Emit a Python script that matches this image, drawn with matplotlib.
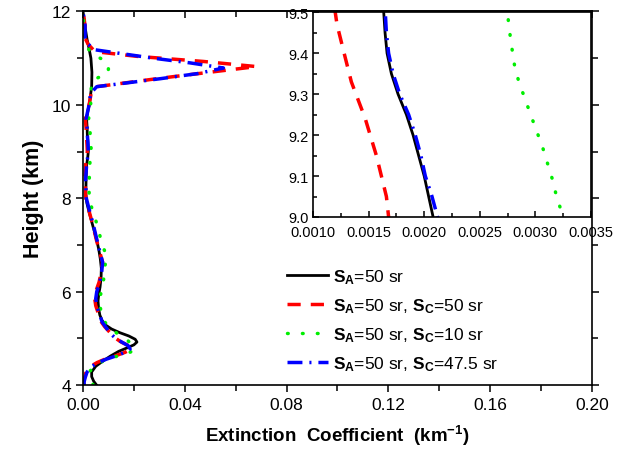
import matplotlib
matplotlib.use("Agg")
import matplotlib.pyplot as plt
from matplotlib.ticker import MultipleLocator

plt.rcParams['font.family'] = ['Liberation Sans', 'DejaVu Sans']
plt.rcParams['mathtext.fontset'] = 'custom'
plt.rcParams['mathtext.rm'] = 'Liberation Sans:bold'
plt.rcParams['mathtext.bf'] = 'Liberation Sans:bold'
plt.rcParams['mathtext.it'] = 'Liberation Sans:bold'
plt.rcParams['mathtext.default'] = 'bf'

# S_A = 50 sr
h_a = [4.00, 4.08, 4.18, 4.28, 4.40, 4.52, 4.62, 4.72, 4.80, 4.86, 4.92, 4.98,
       5.05, 5.12, 5.20, 5.28, 5.38, 5.50, 5.65, 5.80, 5.95, 6.10, 6.30, 6.50,
       6.70, 6.90, 7.10, 7.30, 7.50, 7.70, 7.90, 8.10, 8.40, 8.70, 8.90, 9.00,
       9.05, 9.10, 9.15, 9.20, 9.25, 9.30, 9.35, 9.40, 9.45, 9.50, 9.70, 9.90,
       10.10, 10.40, 10.70, 11.00, 11.20, 11.40, 11.60, 11.80, 12.00]
ext_a = [0.0053, 0.0042, 0.0034, 0.0034, 0.0050, 0.0080, 0.0108, 0.0140, 0.0175,
         0.0200, 0.0212, 0.0205, 0.0180, 0.0145, 0.0112, 0.0090, 0.0075, 0.0066,
         0.0061, 0.0059, 0.0062, 0.0067, 0.0071, 0.0072, 0.0068, 0.0062, 0.0054,
         0.0044, 0.0034, 0.0024, 0.0015, 0.0011, 0.0012, 0.0014, 0.0019, 0.00208,
         0.00204, 0.00200, 0.00195, 0.00190, 0.00184, 0.001765, 0.001705,
         0.001666, 0.001648, 0.001636, 0.0014, 0.0020, 0.0027, 0.0034, 0.0035,
         0.0031, 0.0024, 0.0016, 0.0010, 0.0005, 0.0000]

# S_A = 50 sr, S_C = 50 sr
h_b = [4.00, 4.06, 4.15, 4.28, 4.40, 4.48, 4.55, 4.62, 4.70, 4.77, 4.84, 4.92,
       4.99, 5.07, 5.13, 5.25, 5.35, 5.50, 5.70, 5.85, 6.00, 6.20, 6.42, 6.63,
       6.88, 7.10, 7.42, 7.70, 8.00, 8.40, 8.70, 9.00, 9.05, 9.15, 9.24, 9.33,
       9.40, 9.47, 9.50, 9.70, 10.00, 10.25, 10.39, 10.57, 10.70, 10.82, 10.93,
       11.04, 11.14, 11.30, 11.45, 11.70, 12.00]
ext_b = [0.0002, 0.0003, 0.0006, 0.0012, 0.0030, 0.0055, 0.0085, 0.0125, 0.0165,
         0.0190, 0.0180, 0.0150, 0.0131, 0.0115, 0.0105, 0.0085, 0.0072, 0.0062,
         0.0050, 0.0046, 0.0050, 0.0063, 0.0072, 0.0077, 0.0064, 0.0053, 0.0039,
         0.0025, 0.0011, 0.0008, 0.0010, 0.00168, 0.00166, 0.00157, 0.00147,
         0.001345, 0.00128, 0.001216, 0.00120, 0.0009, 0.0024, 0.0032, 0.0054,
         0.0303, 0.0499, 0.0682, 0.0473, 0.0211, 0.0047, 0.0020, 0.0006, 0.0008,
         0.0000]

# S_A = 50 sr, S_C = 10 sr
h_c = [4.00, 4.10, 4.20, 4.29, 4.40, 4.50, 4.57, 4.63, 4.69, 4.74, 4.80, 4.88,
       4.99, 5.10, 5.20, 5.35, 5.56, 5.70, 5.85, 6.00, 6.15, 6.49, 6.77, 7.06,
       7.38, 7.70, 8.00, 8.30, 8.70, 9.012, 9.05, 9.09, 9.13, 9.17, 9.21, 9.25,
       9.289, 9.329, 9.369, 9.41, 9.449, 9.488, 9.70, 10.00, 10.30, 10.50, 10.56,
       10.68, 10.80, 10.93, 11.02, 11.10, 11.25, 11.43, 11.70, 12.00]
ext_c = [0.0040, 0.0033, 0.0028, 0.0026, 0.0045, 0.0075, 0.0105, 0.0142, 0.0180,
         0.0200, 0.0200, 0.0188, 0.0170, 0.0135, 0.0112, 0.0085, 0.0072, 0.0066,
         0.0065, 0.0072, 0.0079, 0.0085, 0.0092, 0.0072, 0.0059, 0.0039, 0.0024,
         0.0024, 0.0026, 0.003236, 0.00319, 0.003155, 0.00311, 0.003065, 0.003011,
         0.002957, 0.002906, 0.002852, 0.002813, 0.00279, 0.00277, 0.002753,
         0.0022, 0.0030, 0.0032, 0.0033, 0.0050, 0.0099, 0.0100, 0.0093, 0.0060,
         0.0033, 0.0015, 0.0005, 0.0003, 0.0000]

# S_A = 50 sr, S_C = 47.5 sr
h_d = [4.00, 4.06, 4.15, 4.28, 4.40, 4.48, 4.55, 4.62, 4.70, 4.77, 4.84, 4.92,
       5.00, 5.10, 5.25, 5.35, 5.50, 5.70, 5.85, 6.00, 6.20, 6.45, 6.63, 6.88,
       7.10, 7.42, 7.70, 8.00, 8.40, 8.70, 9.00, 9.05, 9.10, 9.15, 9.20, 9.25,
       9.30, 9.35, 9.40, 9.45, 9.50, 9.70, 10.00, 10.25, 10.39, 10.56, 10.67,
       10.79, 10.90, 11.00, 11.18, 11.30, 11.45, 11.70, 12.00]
ext_d = [0.0005, 0.0004, 0.0008, 0.0016, 0.0035, 0.0060, 0.0090, 0.0128, 0.0165,
         0.0185, 0.0178, 0.0152, 0.0128, 0.0108, 0.0088, 0.0075, 0.0066, 0.0054,
         0.0050, 0.0054, 0.0066, 0.0074, 0.0077, 0.0065, 0.0055, 0.0041, 0.0027,
         0.0013, 0.0010, 0.0014, 0.00212, 0.00207, 0.00201, 0.00197, 0.00192,
         0.00186, 0.00178, 0.00172, 0.00168, 0.00166, 0.00165, 0.0012, 0.0024,
         0.0030, 0.0054, 0.0303, 0.0450, 0.0552, 0.0420, 0.0276, 0.0047, 0.0020,
         0.0008, 0.0008, 0.0000]

labels = [r'$S_A$=50 sr', r'$S_A$=50 sr, $S_C$=50 sr',
          r'$S_A$=50 sr, $S_C$=10 sr', r'$S_A$=50 sr, $S_C$=47.5 sr']

series = [(ext_a, h_a, dict(color='black', lw=2.0, ls='-')),
          (ext_b, h_b, dict(color='#ff0000', lw=2.5, ls=(0, (3.8, 2.9)))),
          (ext_c, h_c, dict(color='#00ee00', lw=2.5, ls=(0, (0.2, 4.1)),
                            dash_capstyle='round')),
          (ext_d, h_d, dict(color='#0000ff', lw=2.5, ls=(0, (4.3, 2.0, 0.6, 2.0))))]

fig = plt.figure(figsize=(6.27, 4.56), dpi=100)
ax = fig.add_axes([0.1324, 0.1535, 0.8116, 0.8191])

lines = []
for x, y, style in series:
    ln, = ax.plot(x, y, **style)
    lines.append(ln)

ax.set_xlim(0, 0.20)
ax.set_ylim(4, 12)
ax.xaxis.set_major_locator(MultipleLocator(0.04))
ax.xaxis.set_minor_locator(MultipleLocator(0.02))
ax.yaxis.set_major_locator(MultipleLocator(2))
ax.yaxis.set_minor_locator(MultipleLocator(1))
ax.xaxis.set_major_formatter(plt.FuncFormatter(lambda v, p: f'{v:.2f}'))
ax.tick_params(which='both', direction='out', width=1.1, labelsize=12.5)
ax.tick_params(which='major', length=5)
ax.tick_params(which='minor', length=4)
ax.tick_params(axis='y', which='both', right=True)
for sp in ax.spines.values():
    sp.set_linewidth(1.2)

# inward ticks along the top edge
top = ax.secondary_xaxis('top')
top.xaxis.set_major_locator(MultipleLocator(0.04))
top.xaxis.set_minor_locator(MultipleLocator(0.02))
top.tick_params(which='both', direction='in', width=1.1, labeltop=False)
top.tick_params(which='major', length=5)
top.tick_params(which='minor', length=4)
top.spines['top'].set_linewidth(1.2)

ax.set_xlabel(r'Extinction  Coefficient  (km$^{-1}$)', fontsize=13.5,
              fontweight='bold', labelpad=8)
ax.set_ylabel('Height (km)', fontsize=15.5, fontweight='bold', labelpad=6)

ax.legend(lines, labels, loc='upper left', bbox_to_anchor=(0.40, 0.316),
          frameon=False, fontsize=12.5, handlelength=2.4, handletextpad=0.3,
          labelspacing=0.6, borderpad=0, borderaxespad=0)

# inset zoom of 9.0 - 9.5 km
ins = fig.add_axes([0.4992, 0.522, 0.4434, 0.4488])
for x, y, style in series:
    ins.plot(x, y, **style)
ins.set_xlim(0.0010, 0.0035)
ins.set_ylim(9.0, 9.5)
ins.xaxis.set_major_locator(MultipleLocator(0.0005))
ins.xaxis.set_minor_locator(MultipleLocator(0.00025))
ins.yaxis.set_major_locator(MultipleLocator(0.1))
ins.yaxis.set_minor_locator(MultipleLocator(0.05))
ins.xaxis.set_major_formatter(plt.FuncFormatter(lambda v, p: f'{v:.4f}'))
ins.yaxis.set_major_formatter(plt.FuncFormatter(lambda v, p: f'{v:.1f}'))
ins.tick_params(which='both', direction='in', width=1.1, labelsize=10.5)
ins.tick_params(axis='x', pad=6)
ins.tick_params(axis='y', pad=3)
ins.tick_params(which='major', length=4)
ins.tick_params(which='minor', length=3)
for sp in ins.spines.values():
    sp.set_linewidth(1.2)

fig.savefig('out.png', dpi=100)
